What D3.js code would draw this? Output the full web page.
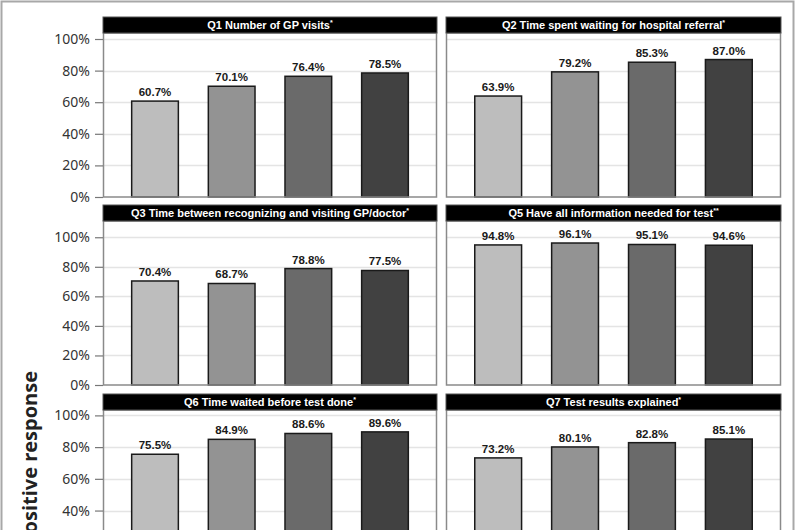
<!DOCTYPE html>
<html>
<head>
<meta charset="utf-8">
<script src="https://cdn.jsdelivr.net/npm/d3@7"></script>
<style>
  html, body { margin: 0; padding: 0; background: #fff; }
  svg { display: block; }
</style>
</head>
<body>
<svg id="chart" width="800" height="530"></svg>
<script>
// ---- data ----
const groups = ["Group 1", "Group 2", "Group 3", "Group 4"];
const panelTitles = [
  "Q1 Number of GP visits",
  "Q2 Time spent waiting for hospital referral",
  "Q3 Time between recognizing and visiting GP/doctor",
  "Q5 Have all information needed for test",
  "Q6 Time waited before test done",
  "Q7 Test results explained"
];
const panelMarks = ["*", "*", "*", "**", "*", "*"];
const q1Values = [60.7, 70.1, 76.4, 78.5];
const q2Values = [63.9, 79.2, 85.3, 87.0];
const q3Values = [70.4, 68.7, 78.8, 77.5];
const q5Values = [94.8, 96.1, 95.1, 94.6];
const q6Values = [75.5, 84.9, 88.6, 89.6];
const q7Values = [73.2, 80.1, 82.8, 85.1];
const yTicks = [0, 20, 40, 60, 80, 100];
const rowAxisMax = [103.8, 111, 103.4];
const yTitle = "% positive response";

const panelValues = [q1Values, q2Values, q3Values, q5Values, q6Values, q7Values];
const barColors = ["#bdbdbd", "#939393", "#6a6a6a", "#414141"];

// ---- layout ----
const W = 800, H = 530;
const svg = d3.select("#chart");
svg.append("rect").attr("width", W).attr("height", H).attr("fill", "#fff");
// outer frame
svg.append("rect").attr("x", 1.5).attr("y", 1.5).attr("width", 792).attr("height", 560)
  .attr("fill", "none").attr("stroke", "#a8a8a8").attr("stroke-width", 2);

const colX = [[103, 437], [446, 781]];
const rowTop = [17, 205, 394];
const titleH = 16;
const plotH = 164;

const color = d3.scaleOrdinal().domain(groups).range(barColors);

panelValues.forEach((vals, i) => {
  const r = Math.floor(i / 2), c = i % 2;
  const [x0, x1] = colX[c];
  const top = rowTop[r];
  const pTop = top + titleH, pBot = pTop + plotH;

  const x = d3.scaleBand().domain(groups).range([x0, x1])
    .paddingInner(0.391).paddingOuter(0.374);
  const y = d3.scaleLinear().domain([0, rowAxisMax[r]]).range([pBot, pTop]);

  const g = svg.append("g");

  // plot background + gridlines
  g.append("rect").attr("x", x0).attr("y", pTop).attr("width", x1 - x0).attr("height", plotH)
    .attr("fill", "#fff");
  g.selectAll("line.grid").data(yTicks.filter(t => t > 0)).join("line")
    .attr("x1", x0).attr("x2", x1)
    .attr("y1", d => Math.round(y(d)) + 0.5).attr("y2", d => Math.round(y(d)) + 0.5)
    .attr("stroke", "#e4e4e4").attr("stroke-width", 1.5);

  // bars
  g.selectAll("rect.bar").data(vals).join("rect")
    .attr("x", (d, k) => x(groups[k]))
    .attr("y", d => y(d))
    .attr("width", x.bandwidth())
    .attr("height", d => y(0) - y(d))
    .attr("fill", (d, k) => color(groups[k]))
    .attr("stroke", "#1a1a1a").attr("stroke-width", 1.5);

  // value labels
  g.selectAll("text.val").data(vals).join("text")
    .attr("x", (d, k) => x(groups[k]) + x.bandwidth() / 2)
    .attr("y", d => y(d) - 5)
    .attr("text-anchor", "middle")
    .attr("font-family", "Liberation Sans, Arial, sans-serif")
    .attr("font-weight", "bold").attr("font-size", 11.5).attr("fill", "#1a1a1a")
    .text(d => d.toFixed(1) + "%");

  // plot border
  g.append("rect").attr("x", x0 + 0.5).attr("y", pTop).attr("width", x1 - x0 - 1).attr("height", plotH)
    .attr("fill", "none").attr("stroke", "#8a8a8a").attr("stroke-width", 1.5);

  // title bar
  g.append("rect").attr("x", x0).attr("y", top).attr("width", x1 - x0).attr("height", titleH)
    .attr("fill", "#000").attr("stroke", "#555").attr("stroke-width", 1);
  const t = g.append("text")
    .attr("x", (x0 + x1) / 2).attr("y", top + 12)
    .attr("text-anchor", "middle")
    .attr("font-family", "Liberation Sans, Arial, sans-serif")
    .attr("font-weight", "bold").attr("font-size", 11).attr("fill", "#fff");
  t.append("tspan").text(panelTitles[i]);
  t.append("tspan").attr("font-size", 7).attr("dy", -4).text(panelMarks[i]);

  // y axis on left column (only ticks that fall inside the picture)
  if (c === 0) {
    const visTicks = yTicks.filter(d => y(d) < H - 8);
    const axis = d3.axisLeft(y).tickValues(visTicks).tickSize(8).tickPadding(5)
      .tickFormat(d => d + "%");
    const ag = svg.append("g").attr("transform", `translate(${x0},0)`).call(axis);
    ag.select(".domain").remove();
    ag.selectAll(".tick line").attr("stroke", "#777").attr("stroke-width", 1.2);
    ag.selectAll(".tick text")
      .attr("font-family", "Noto Sans, sans-serif").attr("font-size", 14).attr("fill", "#333");
  }
});

// y axis title
svg.append("text")
  .attr("transform", "translate(37,371) rotate(-90)")
  .attr("text-anchor", "end")
  .attr("font-family", "Open Sans, sans-serif")
  .attr("font-weight", "bold").attr("font-size", 20).attr("fill", "#222")
  .text(yTitle);
</script>
</body>
</html>
